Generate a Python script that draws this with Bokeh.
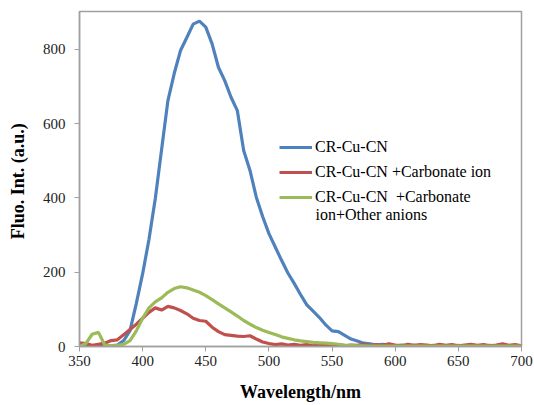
from bokeh.plotting import figure
from bokeh.models import Range1d, Legend, LegendItem, Label, FixedTicker
from bokeh.embed import file_html
from bokeh.resources import INLINE

wavelength = list(range(350, 701, 5))

blue_cn = [3, 0, 2, 0, 1, 2, 4, 16, 43, 116,
           196, 288, 398, 530, 662, 735, 797, 832, 868, 876,
           860, 815, 752, 716, 671, 635, 528, 474, 402, 350,
           304, 268, 232, 198, 170, 140, 112, 95, 78, 58,
           42, 40, 30, 20, 15, 9, 7, 4, 6, 3,
           2, 4, 1, 3, 2, 0, 3, 1, 2, 0,
           3, 1, 2, 0, 2, 3, 1, 4, 2, 0, 1]

red_carbonate = [10, 8, 3, 6, 9, 16, 18, 32, 46, 60,
                 76, 92, 104, 98, 108, 104, 97, 88, 76, 70,
                 68, 52, 40, 32, 30, 28, 27, 29, 20, 12,
                 8, 5, 7, 4, 6, 3, 5, 2, 4, 6,
                 3, 5, 2, 4, 3, 6, 2, 5, 3, 7,
                 4, 2, 6, 3, 5, 4, 2, 6, 3, 5,
                 2, 4, 6, 3, 5, 2, 4, 7, 3, 5, 2]

green_others = [0, 8, 33, 38, 4, 2, 3, 6, 16, 42,
                76, 104, 120, 131, 146, 156, 161, 158, 152, 146,
                137, 126, 115, 104, 93, 82, 70, 60, 51, 44,
                38, 32, 26, 22, 18, 15, 13, 11, 10, 9,
                8, 6, 4, 3, 2, 2, 1, 1, 1, 1,
                1, 1, 1, 1, 1, 1, 1, 1, 1, 1,
                1, 1, 1, 1, 1, 1, 1, 1, 1, 1, 1]

x_ticks = [350, 400, 450, 500, 550, 600, 650, 700]
y_ticks = [0, 200, 400, 600, 800]
labels = ["CR-Cu-CN", "CR-Cu-CN +Carbonate ion", "CR-Cu-CN  +Carbonate"]
label_cont = "ion+Other anions"
colors = ["#4F81BD", "#C0504D", "#9BBB59"]

SERIF = "Liberation Serif"

p = figure(width=534, height=405, output_backend="svg", toolbar_location=None,
           x_range=Range1d(350, 700), y_range=Range1d(0, 902),
           min_border_left=79, min_border_right=13, min_border_top=11, min_border_bottom=59)

p.background_fill_color = "white"
p.border_fill_color = "white"
p.outline_line_color = "#A0A0A0"
p.outline_line_width = 1.5
p.grid.visible = False

for ax in (p.xaxis, p.yaxis):
    ax.axis_line_color = "#A0A0A0"
    ax.axis_line_width = 1.5
    ax.major_tick_line_color = "#A0A0A0"
    ax.major_tick_out = 5
    ax.major_tick_in = 0
    ax.minor_tick_line_color = None
    ax.major_label_text_font = SERIF
    ax.major_label_text_font_size = "15px"
    ax.major_label_text_color = "#222222"
    ax.axis_label_text_font = SERIF
    ax.axis_label_text_font_style = "bold"
    ax.axis_label_text_font_size = "18px"
    ax.axis_label_text_color = "#000000"

p.xaxis.ticker = FixedTicker(ticks=x_ticks)
p.yaxis.ticker = FixedTicker(ticks=y_ticks)
p.xaxis.axis_label = "Wavelength/nm"
p.yaxis.axis_label = "Fluo. Int.  (a.u.)"
p.xaxis.major_label_standoff = 4
p.yaxis.major_label_standoff = 9
p.xaxis.axis_label_standoff = 13
p.yaxis.axis_label_standoff = 12

series = [blue_cn, red_carbonate, green_others]
renderers = []
for ys, c in zip(series, colors):
    r = p.line(wavelength, ys, line_color=c, line_width=3.2)
    renderers.append(r)

legend = Legend(items=[LegendItem(label=l, renderers=[r]) for l, r in zip(labels, renderers)],
                location=(200, 139))
legend.border_line_color = None
legend.background_fill_alpha = 0
legend.padding = 0
legend.margin = 0
legend.spacing = 5
legend.glyph_width = 33
legend.glyph_height = 20
legend.label_height = 20
legend.label_standoff = 3
legend.label_text_font = SERIF
legend.label_text_font_size = "16px"
legend.label_text_color = "#000000"
p.add_layout(legend, "center")

p.add_layout(Label(x=236, y=132, x_units="screen", y_units="screen", text=label_cont,
                   text_font=SERIF, text_font_size="16px", text_color="#000000",
                   text_baseline="middle"))

open("out.html", "w").write(file_html(p, INLINE))
